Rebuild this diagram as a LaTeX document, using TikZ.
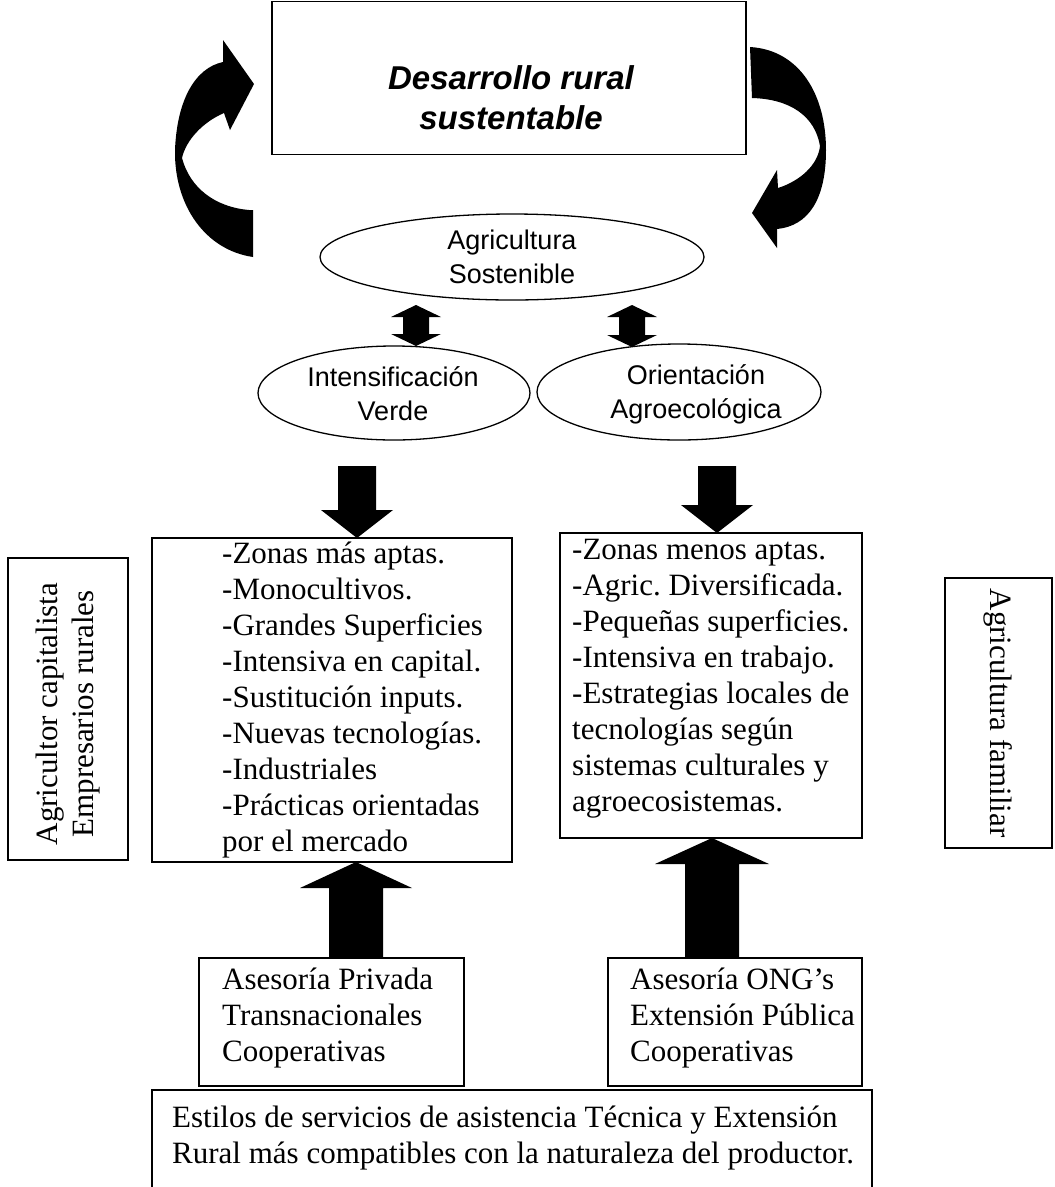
\documentclass[tikz,border=0pt]{standalone}
\usepackage{fontspec}
\setmainfont{Liberation Serif}
\newfontfamily\arialfont{Liberation Sans}
\usetikzlibrary{shapes.geometric}
\frenchspacing
\tikzset{
  box/.style={draw, line width=1.4pt, rectangle, inner sep=0pt},
  oval/.style={draw, line width=1.3pt, ellipse, inner sep=0pt},
  ovaltext/.style={inner sep=0pt, align=center, font=\arialfont\fontsize{27}{34}\selectfont},
  serif/.style={font=\frenchspacing\fontsize{31}{36}\selectfont, inner sep=0pt},
  blk/.style={fill=black, draw=none},
}
% vertical block arrow: x, y tail, y tip, shaft half width, head half width, head length (toward tip, signed)
\newcommand\vblockarrow[6]{%
  \fill[blk] (#1-#4,#2) -- (#1-#4,#3-#6) -- (#1-#5,#3-#6) -- (#1,#3) -- (#1+#5,#3-#6)
    -- (#1+#4,#3-#6) -- (#1+#4,#2) -- cycle;}
% vertical double block arrow: x, y top tip, y bottom tip, shaft half, head half, head length
\newcommand\vdoublearrow[6]{%
  \fill[blk] (#1,#2) -- (#1+#5,#2+#6) -- (#1+#4,#2+#6) -- (#1+#4,#3-#6) -- (#1+#5,#3-#6)
    -- (#1,#3) -- (#1-#5,#3-#6) -- (#1-#4,#3-#6) -- (#1-#4,#2+#6) -- (#1-#5,#2+#6) -- cycle;}
\begin{document}
\begin{tikzpicture}[x=1pt, y=-1pt]
\useasboundingbox (0,0) rectangle (1055,1187);

% top box
\node[box, minimum width=474pt, minimum height=153pt] (top) at (509,78) {};
\node[inner sep=0pt, align=center, font=\arialfont\bfseries\itshape\fontsize{33}{40}\selectfont]
  (toptext) at (511,98) {Desarrollo rural\\sustentable};

% curved arrows
\fill[blk] (253,257) .. controls (205,250) and (174,205) .. (175,150)
  .. controls (177,100) and (195,68) .. (223,62) -- (223,40) -- (254,84) -- (230,130) -- (224,113)
  .. controls (203,122) and (186,140) .. (182,158)
  .. controls (190,188) and (215,207) .. (249,210) -- (253,210) -- cycle;
\fill[blk] (750,47) .. controls (800,50) and (826,95) .. (826,150)
  .. controls (826,200) and (808,226) .. (777,229) -- (777,248) -- (752,213) -- (777,170) -- (778,188)
  .. controls (800,181) and (818,165) .. (820,146)
  .. controls (815,116) and (790,99) .. (752,98) -- cycle;

% ellipses
\node[oval, minimum width=384pt, minimum height=86pt] (as) at (512,257) {};
\node[ovaltext] (astext) at (512,257) {Agricultura\\Sostenible};
\node[oval, minimum width=272pt, minimum height=94pt] (iv) at (394,393) {};
\node[ovaltext] (ivtext) at (393,394) {Intensificación\\Verde};
\node[oval, minimum width=284pt, minimum height=96pt] (oa) at (679,392) {};
\node[ovaltext] (oatext) at (696,394) {Orientación\\Agroecológica};

% double arrows
\vdoublearrow{416}{305}{346}{13}{25}{12}
\vdoublearrow{632}{305}{347}{13}{25}{12}

% main boxes
\node[box, minimum width=360pt, minimum height=324pt] (lbox) at (332,700) {};
\node[serif, align=left, anchor=north west] (ltext) at (222,542) {%
-Zonas más aptas.\\-Monocultivos.\\-Grandes Superficies\\-Intensiva en capital.\\%
-Sustitución inputs.\\-Nuevas tecnologías.\\-Industriales\\-Prácticas orientadas\\por el mercado};
\node[box, minimum width=302pt, minimum height=305pt] (rbox) at (711,685.5) {};
\node[serif, align=left, anchor=north west] (rtext) at (572,539) {%
-Zonas menos aptas.\\-Agric. Diversificada.\\-Pequeñas superficies.\\-Intensiva en trabajo.\\%
-Estrategias locales de\\tecnologías según\\sistemas culturales y\\agroecosistemas.};

% down arrows
\vblockarrow{357}{466}{538}{19}{36}{28}
\vblockarrow{717}{466}{533}{19}{36}{28}

% side vertical boxes
\node[box, minimum width=120pt, minimum height=302pt] (lv) at (68,709) {};
\node[serif, align=center, rotate=90] (lvtext) at (68,714) {Agricultor capitalista\\Empresarios rurales};
\node[box, minimum width=107pt, minimum height=270pt] (rv) at (998.5,713) {};
\node[serif, rotate=-90] (rvtext) at (998.5,713) {Agricultura familiar};

% up arrows
\vblockarrow{356}{958}{862}{27}{56}{-26}
\vblockarrow{712}{958}{838}{27}{57}{-26}

% advisory boxes
\node[box, minimum width=265pt, minimum height=128pt] (ap) at (331.5,1022) {};
\node[serif, align=left, anchor=north west] (aptext) at (222,968) {Asesoría Privada\\Transnacionales\\Cooperativas};
\node[box, minimum width=254pt, minimum height=128pt] (ao) at (735,1022) {};
\node[serif, align=left, anchor=north west] (aotext) at (630,968) {Asesoría ONG’s\\Extensión Pública\\Cooperativas};

% bottom box (open at the bottom)
\coordinate (bl) at (152,1187);
\coordinate (br) at (872,1187);
\draw[line width=1.4pt] (bl) -- (152,1090) -- (872,1090) -- (br);
\node[serif, align=left, anchor=north west] (esttext) at (172,1106) {Estilos de servicios de asistencia Técnica y Extensión\\Rural más compatibles con la naturaleza del productor.};
\end{tikzpicture}
\end{document}
